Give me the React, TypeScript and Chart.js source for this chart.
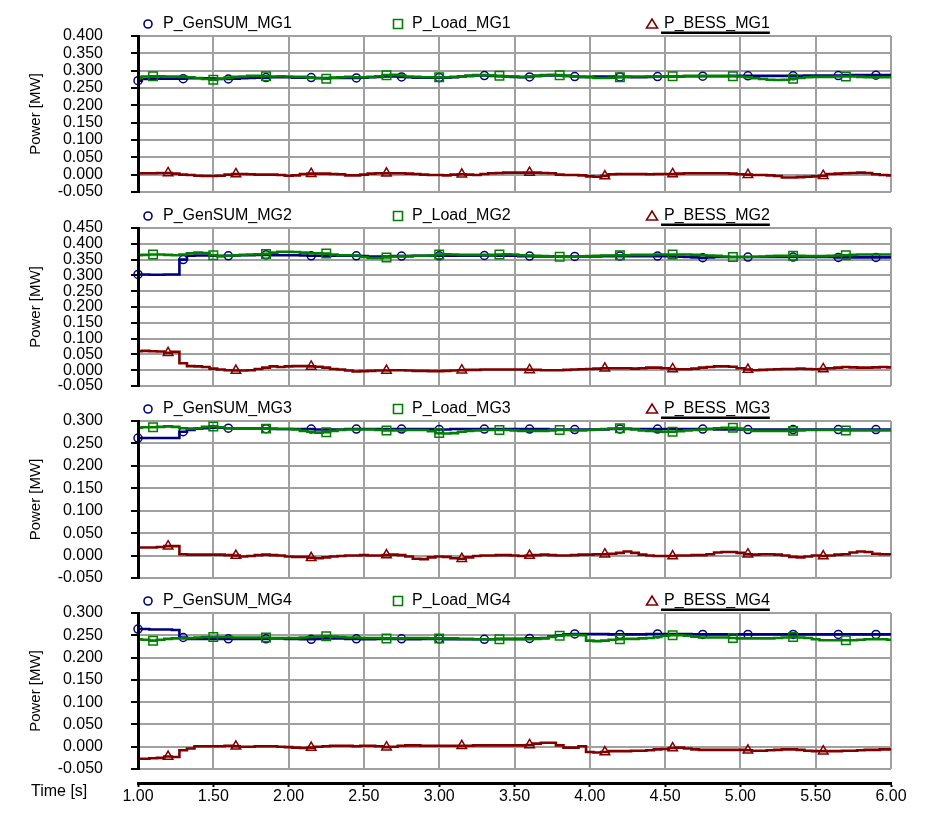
import React, { useEffect, useRef } from "react";
import { Chart, registerables } from "chart.js";

Chart.register(...registerables);

const FONT = '"Liberation Sans", Arial, sans-serif';

// sample times (s)
const TIME = [
  1.00, 1.05, 1.10, 1.15, 1.20, 1.25, 1.30, 1.35, 1.40, 1.45,
  1.50, 1.55, 1.60, 1.65, 1.70, 1.75, 1.80, 1.85, 1.90, 1.95,
  2.00, 2.05, 2.10, 2.15, 2.20, 2.25, 2.30, 2.35, 2.40, 2.45,
  2.50, 2.55, 2.60, 2.65, 2.70, 2.75, 2.80, 2.85, 2.90, 2.95,
  3.00, 3.05, 3.10, 3.15, 3.20, 3.25, 3.30, 3.35, 3.40, 3.45,
  3.50, 3.55, 3.60, 3.65, 3.70, 3.75, 3.80, 3.85, 3.90, 3.95,
  4.00, 4.05, 4.10, 4.15, 4.20, 4.25, 4.30, 4.35, 4.40, 4.45,
  4.50, 4.55, 4.60, 4.65, 4.70, 4.75, 4.80, 4.85, 4.90, 4.95,
  5.00, 5.05, 5.10, 5.15, 5.20, 5.25, 5.30, 5.35, 5.40, 5.45,
  5.50, 5.55, 5.60, 5.65, 5.70, 5.75, 5.80, 5.85, 5.90, 5.95,
  6.00,
];

// marker times for each series type
const MARK_GEN = [1.0, 1.29, 1.58, 1.87, 2.16, 2.45, 2.73, 3.02, 3.31, 3.6, 3.89, 4.18, 4.47, 4.76, 5.05, 5.34, 5.63, 5.92];
const MARK_LOAD = [1.1, 1.48, 1.87, 2.25, 2.64, 3.02, 3.41, 3.79, 4.18, 4.57, 4.95, 5.34, 5.72];
const MARK_BESS = [1.19, 1.67, 2.16, 2.65, 3.13, 3.61, 4.09, 4.57, 5.05, 5.53];

// ---- MG1 ----
const GEN_MG1 = [
  .271, .276, .277, .277, .277, .277, .277, .278, .278, .278,
  .277, .276, .276, .277, .278, .279, .280, .280, .281, .281,
  .281, .280, .280, .280, .279, .279, .279, .279, .279, .279,
  .280, .281, .282, .283, .283, .282, .281, .280, .280, .280,
  .280, .280, .281, .283, .285, .286, .286, .285, .284, .283,
  .282, .281, .282, .285, .286, .286, .286, .285, .283, .282,
  .282, .283, .283, .283, .282, .282, .281, .281, .282, .283,
  .283, .283, .283, .284, .284, .284, .284, .284, .284, .285,
  .285, .285, .285, .285, .285, .285, .285, .285, .285, .286,
  .286, .286, .286, .286, .287, .287, .287, .287, .287, .287,
  .287,
];
const LOAD_MG1 = [
  .280, .283, .284, .284, .283, .283, .282, .281, .279, .276,
  .274, .277, .280, .282, .283, .285, .285, .284, .283, .284,
  .283, .282, .282, .280, .278, .277, .280, .281, .282, .281,
  .281, .282, .284, .287, .288, .286, .283, .282, .281, .281,
  .281, .281, .282, .283, .285, .287, .287, .286, .285, .284,
  .283, .282, .283, .285, .287, .288, .287, .285, .283, .282,
  .281, .279, .279, .280, .281, .282, .283, .283, .283, .283,
  .284, .284, .284, .285, .285, .285, .285, .285, .285, .284,
  .283, .281, .278, .276, .274, .273, .274, .277, .279, .281,
  .282, .282, .282, .283, .283, .283, .282, .281, .281, .281,
  .281,
];
const BESS_MG1 = [
  .004, .004, .004, .005, .005, .003, .000, -.001, -.003, -.004,
  -.004, -.003, .000, .002, .002, .001, .000, .000, .000, -.001,
  -.003, -.002, .002, .003, .003, .003, .002, .001, -.002, -.002,
  .000, .003, .004, .004, .004, .004, .003, .002, .000, -.001,
  -.001, -.002, .000, .001, .000, -.001, .002, .004, .005, .006,
  .006, .006, .006, .006, .005, .004, .000, -.001, -.001, -.002,
  -.005, -.006, -.004, .001, .002, .002, .002, .002, .001, .002,
  .002, .002, .003, .004, .004, .004, .004, .004, .004, .003,
  .001, .000, -.001, -.001, -.002, -.004, -.008, -.008, -.007, -.006,
  -.005, -.003, .002, .003, .004, .005, .006, .005, .001, -.001,
  -.002,
];

// ---- MG2 ----
const GEN_MG2 = [
  .303, .303, .302, .302, .303, .303, .350, .362, .363, .363,
  .362, .361, .362, .363, .364, .364, .365, .365, .364, .364,
  .364, .364, .363, .362, .362, .362, .362, .362, .362, .362,
  .361, .360, .360, .360, .361, .361, .361, .362, .362, .362,
  .362, .362, .362, .362, .362, .362, .363, .363, .362, .362,
  .362, .361, .361, .360, .360, .360, .360, .360, .360, .360,
  .360, .360, .361, .361, .361, .361, .361, .361, .361, .361,
  .361, .360, .359, .358, .357, .356, .357, .358, .358, .358,
  .358, .358, .358, .358, .358, .358, .358, .358, .358, .358,
  .358, .358, .358, .357, .357, .357, .357, .357, .357, .357,
  .357,
];
const LOAD_MG2 = [
  .364, .365, .366, .366, .365, .364, .366, .370, .372, .371,
  .364, .362, .362, .364, .365, .366, .367, .368, .372, .375,
  .375, .374, .372, .370, .370, .369, .366, .364, .364, .363,
  .358, .355, .355, .357, .360, .361, .361, .362, .362, .363,
  .366, .367, .366, .365, .365, .365, .365, .365, .366, .367,
  .366, .364, .363, .362, .361, .360, .359, .358, .359, .360,
  .361, .362, .363, .363, .364, .364, .365, .365, .365, .366,
  .366, .366, .366, .366, .365, .364, .363, .362, .360, .358,
  .358, .358, .359, .360, .361, .362, .362, .362, .362, .361,
  .361, .361, .362, .363, .364, .365, .366, .366, .366, .366,
  .366,
];
const BESS_MG2 = [
  .060, .061, .060, .059, .055, .058, .022, .013, .012, .010,
  .005, .002, .000, -.001, -.001, .000, .004, .008, .012, .010,
  .012, .013, .013, .012, .011, .008, .004, .002, -.001, -.004,
  -.003, -.002, -.001, -.001, .000, .000, -.001, -.002, -.002, -.003,
  -.003, -.002, -.001, .000, .001, .001, .002, .002, .002, .002,
  .002, .002, .001, .001, .000, .000, .000, .001, .002, .003,
  .004, .005, .006, .006, .006, .006, .005, .006, .008, .008,
  .006, .004, .003, .003, .005, .008, .010, .012, .012, .011,
  .006, .002, .000, .001, .002, .003, .004, .004, .005, .004,
  .003, .004, .006, .008, .010, .009, .008, .008, .009, .010,
  .009,
];

// ---- MG3 ----
const GEN_MG3 = [
  .262, .262, .262, .262, .262, .262, .276, .280, .283, .284,
  .285, .285, .284, .283, .283, .283, .283, .283, .282, .282,
  .282, .282, .282, .282, .281, .281, .281, .281, .282, .282,
  .282, .282, .282, .282, .282, .282, .282, .282, .282, .282,
  .281, .281, .282, .282, .282, .282, .282, .282, .282, .282,
  .282, .282, .282, .282, .282, .281, .281, .281, .281, .281,
  .281, .281, .281, .282, .282, .282, .282, .282, .282, .282,
  .282, .282, .282, .282, .282, .282, .282, .281, .281, .281,
  .281, .281, .281, .281, .281, .281, .281, .281, .281, .281,
  .281, .281, .281, .281, .281, .281, .281, .281, .281, .281,
  .281,
];
const LOAD_MG3 = [
  .285, .286, .286, .287, .288, .287, .284, .283, .284, .287,
  .288, .286, .284, .283, .283, .283, .283, .283, .283, .282,
  .282, .281, .278, .276, .274, .275, .278, .280, .281, .281,
  .281, .281, .280, .279, .279, .279, .280, .280, .280, .277,
  .273, .272, .273, .276, .278, .279, .280, .280, .280, .280,
  .279, .278, .278, .278, .278, .279, .280, .280, .279, .279,
  .280, .281, .282, .283, .284, .283, .281, .279, .278, .277,
  .276, .276, .277, .279, .280, .281, .282, .284, .285, .285,
  .283, .280, .278, .278, .278, .278, .278, .278, .279, .280,
  .280, .280, .280, .280, .279, .279, .279, .279, .279, .279,
  .279,
];
const BESS_MG3 = [
  .018, .018, .018, .019, .021, .021, .003, .002, .002, .002,
  .002, .002, .001, .000, -.002, -.001, .001, .002, .001, .000,
  -.002, -.003, -.003, -.005, -.006, -.004, -.002, -.001, .000, .000,
  .001, .000, .000, .001, .002, .001, -.002, -.007, -.008, -.004,
  -.002, -.003, -.006, -.007, -.004, -.001, .000, .000, .001, .001,
  .000, -.001, .000, .001, .002, .001, .000, .000, .001, .002,
  .002, .003, .003, .004, .006, .009, .006, .002, .000, -.001,
  -.001, -.001, .000, .000, .001, .001, .003, .007, .008, .008,
  .006, .003, .002, .003, .003, .002, .000, -.003, -.004, -.002,
  .000, -.001, .000, .002, .003, .007, .009, .008, .004, .003,
  .003,
];

// ---- MG4 ----
const GEN_MG4 = [
  .264, .264, .263, .263, .263, .262, .245, .242, .242, .242,
  .242, .242, .242, .242, .242, .242, .242, .242, .243, .243,
  .242, .242, .241, .241, .242, .243, .243, .243, .242, .242,
  .241, .241, .242, .242, .242, .242, .241, .241, .242, .242,
  .242, .241, .241, .241, .241, .241, .241, .241, .242, .242,
  .242, .242, .243, .243, .244, .247, .250, .252, .253, .253,
  .253, .253, .253, .252, .252, .252, .252, .252, .253, .253,
  .253, .253, .253, .253, .252, .252, .252, .252, .252, .252,
  .252, .252, .252, .252, .252, .252, .252, .252, .252, .252,
  .252, .252, .252, .252, .252, .252, .252, .252, .252, .252,
  .252,
];
const LOAD_MG4 = [
  .241, .240, .238, .240, .242, .243, .243, .244, .245, .246,
  .246, .246, .246, .245, .245, .245, .245, .245, .244, .244,
  .244, .244, .245, .246, .247, .248, .247, .246, .245, .245,
  .244, .244, .244, .243, .243, .243, .244, .244, .244, .243,
  .243, .243, .243, .242, .242, .241, .241, .241, .241, .241,
  .241, .241, .241, .242, .243, .246, .249, .250, .251, .250,
  .238, .237, .238, .240, .241, .242, .242, .243, .244, .246,
  .249, .250, .250, .249, .247, .245, .245, .245, .245, .244,
  .243, .243, .243, .243, .243, .244, .245, .246, .245, .244,
  .241, .239, .239, .239, .239, .239, .240, .241, .241, .241,
  .240,
];
const BESS_MG4 = [
  -.027, -.027, -.026, -.025, -.022, -.023, -.008, -.004, .001, .001,
  .001, .001, .002, .001, .000, .000, .001, .001, .001, .000,
  -.001, -.002, -.003, -.002, .000, .001, .002, .002, .002, .001,
  .002, .002, .001, -.001, .000, .002, .003, .003, .002, .002,
  .002, .002, .002, .002, .002, .003, .003, .003, .003, .003,
  .003, .003, .004, .007, .009, .009, .003, -.002, -.002, .001,
  -.012, -.013, -.012, -.010, -.010, -.010, -.009, -.009, -.008, -.006,
  -.005, -.003, -.002, -.004, -.006, -.007, -.007, -.007, -.007, -.007,
  -.007, -.008, -.009, -.009, -.008, -.007, -.006, -.006, -.007, -.009,
  -.010, -.010, -.010, -.010, -.009, -.009, -.008, -.007, -.007, -.006,
  -.006,
];

const GEN = [GEN_MG1, GEN_MG2, GEN_MG3, GEN_MG4];
const LOAD = [LOAD_MG1, LOAD_MG2, LOAD_MG3, LOAD_MG4];
const BESS = [BESS_MG1, BESS_MG2, BESS_MG3, BESS_MG4];
const NAMES = ["MG1", "MG2", "MG3", "MG4"];
const Y_MIN = [-0.05, -0.05, -0.05, -0.05];
const Y_MAX = [0.4, 0.45, 0.3, 0.3];
const X_MIN = 1.0;
const X_MAX = 6.0;
const X_STEP = 0.5;
const Y_STEP = 0.05;

const COLORS = ["#000080", "#008000", "#800000"];
const STYLES = ["circle", "rect", "triangle"];
const RADII = [4, 6, 5.5];
const GRID = "#a0a0a0";

// layout of each panel canvas (page px); plot area sits 38px inside top
const PAD = 38;
const CANVAS_TOP = [-2, 190, 383, 575];
const CANVAS_H = [232, 234, 233, 250];

function nearestIndexSet(times: number[]): Set<number> {
  const s = new Set<number>();
  times.forEach((t) => {
    let best = 0;
    let bd = Infinity;
    TIME.forEach((tt, i) => {
      const d = Math.abs(tt - t);
      if (d < bd) { bd = d; best = i; }
    });
    s.add(best);
  });
  return s;
}

const legendPlugin = {
  id: "topLegend",
  afterDraw(chart: any, _args: any, opts: any) {
    const { ctx, chartArea } = chart;
    const y = chartArea.top - 12;
    const markerOff = [10, 260, 514];
    const textOff = [25, 274, 526];
    ctx.save();
    ctx.font = `16px ${FONT}`;
    ctx.textBaseline = "middle";
    ctx.textAlign = "left";
    chart.data.datasets.forEach((ds: any, i: number) => {
      const mx = chartArea.left + markerOff[i];
      ctx.strokeStyle = ds.borderColor;
      ctx.lineWidth = 1.6;
      ctx.beginPath();
      if (ds.pointStyle === "circle") {
        ctx.arc(mx, y, 4, 0, Math.PI * 2);
      } else if (ds.pointStyle === "rect") {
        ctx.rect(mx - 4.5, y - 4.5, 9, 9);
      } else {
        ctx.moveTo(mx - 5.5, y + 4);
        ctx.lineTo(mx + 5.5, y + 4);
        ctx.lineTo(mx, y - 5);
        ctx.closePath();
      }
      ctx.stroke();
      ctx.fillStyle = "#000";
      const tx = chartArea.left + textOff[i];
      ctx.fillText(ds.label, tx, y);
      if (i === 2) {
        const w = ctx.measureText(ds.label).width;
        ctx.fillRect(tx - 3, y + 7.5, w + 3, 2.5);
      }
    });
    if (opts && opts.timeLabel && chart.scales.x2) {
      ctx.fillStyle = "#000";
      ctx.fillText("Time [s]", 31, chart.scales.x2.top + 9);
    }
    ctx.restore();
  },
};

function fmtY(v: number) {
  const n = Math.abs(v) < 1e-9 ? 0 : v;
  return n.toFixed(3);
}

function makeConfig(p: number): any {
  const marks = [nearestIndexSet(MARK_GEN), nearestIndexSet(MARK_LOAD), nearestIndexSet(MARK_BESS)];
  const series = [GEN[p], LOAD[p], BESS[p]];
  const labels = [`P_GenSUM_${NAMES[p]}`, `P_Load_${NAMES[p]}`, `P_BESS_${NAMES[p]}`];
  const datasets = series.map((vals, k) => ({
    label: labels[k],
    data: TIME.map((t, i) => ({ x: t, y: vals[i] })),
    borderColor: COLORS[k],
    backgroundColor: "rgba(0,0,0,0)",
    pointBackgroundColor: "rgba(0,0,0,0)",
    pointBorderColor: COLORS[k],
    pointStyle: STYLES[k],
    pointBorderWidth: 1.5,
    pointRadius: (c: any) => (marks[k].has(c.dataIndex) ? RADII[k] : 0),
    borderWidth: 2.6,
    stepped: "middle",
    clip: 8,
    order: 2 - k,
  }));
  const last = p === 3;
  const scales: any = {
    x: {
      type: "linear",
      min: X_MIN,
      max: X_MAX,
      position: "bottom",
      weight: 0,
      ticks: { display: false, stepSize: X_STEP },
      grid: { color: GRID, lineWidth: 2, drawTicks: false },
      border: { display: false },
      afterFit: (s: any) => { s.height = last ? 14 : 0; },
    },
    y: {
      type: "linear",
      min: Y_MIN[p],
      max: Y_MAX[p],
      ticks: {
        stepSize: Y_STEP,
        autoSkip: false,
        color: "#000",
        font: { size: 16, family: FONT },
        padding: 28,
        callback: (v: any) => fmtY(Number(v)),
      },
      grid: { color: GRID, lineWidth: 2, tickLength: 7, tickColor: "#000", tickWidth: 2 },
      border: { color: "#000", width: 3, z: 1 },
      title: {
        display: true,
        text: "Power [MW]",
        color: "#000",
        font: { size: 15, family: FONT },
        padding: { top: 27, bottom: 0 },
      },
      afterFit: (s: any) => { s.width = 138; },
    },
  };
  if (last) {
    scales.x2 = {
      type: "linear",
      min: X_MIN,
      max: X_MAX,
      position: "bottom",
      weight: 1,
      ticks: {
        stepSize: X_STEP,
        autoSkip: false,
        maxRotation: 0,
        color: "#000",
        font: { size: 16, family: FONT },
        padding: 0,
        callback: (v: any) => Number(v).toFixed(2),
      },
      grid: { drawOnChartArea: false, tickLength: 4, tickColor: "#000", tickWidth: 2 },
      border: { color: "#000", width: 3 },
      afterFit: (s: any) => { s.height = 30; },
    };
  }
  return {
    type: "line",
    data: { datasets },
    options: {
      responsive: false,
      animation: false,
      events: [],
      layout: { padding: { top: PAD, bottom: last ? 12 : PAD, left: 0, right: 57 } },
      plugins: {
        legend: { display: false },
        tooltip: { enabled: false },
        topLegend: { timeLabel: last },
      },
      scales,
    },
    plugins: [legendPlugin],
  };
}

export default function App() {
  const refs = [useRef<HTMLCanvasElement>(null), useRef<HTMLCanvasElement>(null), useRef<HTMLCanvasElement>(null), useRef<HTMLCanvasElement>(null)];
  useEffect(() => {
    Chart.defaults.font.family = FONT;
    const charts = refs.map((r, p) => new Chart(r.current as HTMLCanvasElement, makeConfig(p)));
    return () => charts.forEach((c) => c.destroy());
  }, []);
  return (
    <div style={{ position: "absolute", left: 0, top: 0, width: 948, height: 825, background: "#fff", overflow: "hidden" }}>
      {refs.map((r, p) => (
        <canvas
          key={p}
          ref={r}
          width={948}
          height={CANVAS_H[p]}
          style={{ position: "absolute", left: 0, top: CANVAS_TOP[p], width: 948, height: CANVAS_H[p] }}
        />
      ))}
    </div>
  );
}
